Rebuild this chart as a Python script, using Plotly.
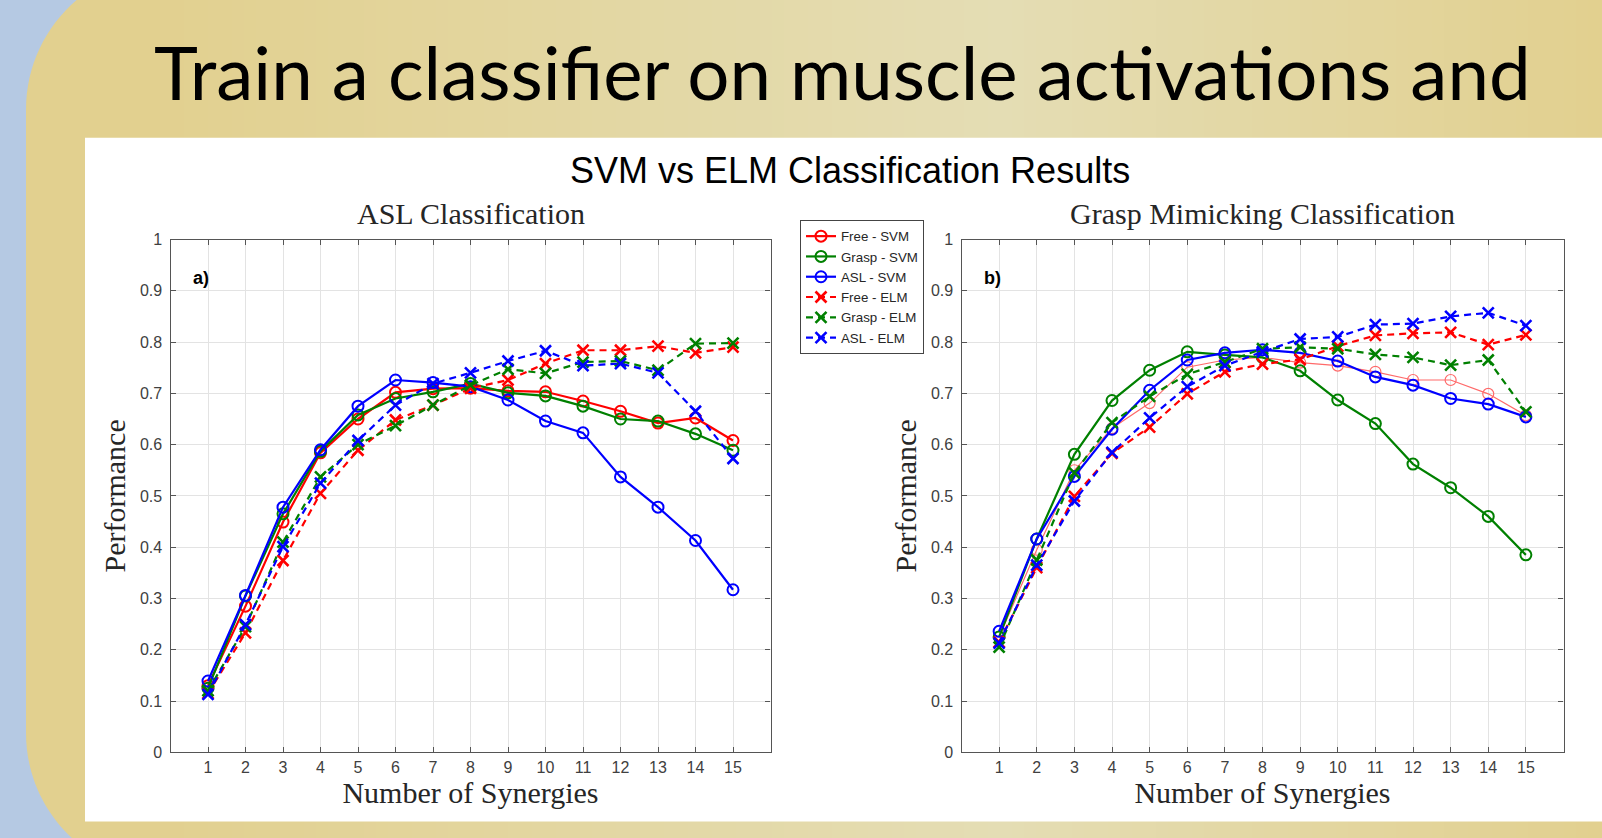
import plotly.graph_objects as go

W, H = 1602, 838

# ---------------- data ----------------
synergies = list(range(1, 16))
x_tick_labels = [str(v) for v in synergies]
y_tick_vals = [0, 0.1, 0.2, 0.3, 0.4, 0.5, 0.6, 0.7, 0.8, 0.9, 1]
y_tick_labels = ["0", "0.1", "0.2", "0.3", "0.4", "0.5", "0.6", "0.7", "0.8", "0.9", "1"]

series_names = ["Free - SVM", "Grasp - SVM", "ASL - SVM", "Free - ELM", "Grasp - ELM", "ASL - ELM"]

# a) ASL Classification
asl_free_svm = [0.130, 0.285, 0.449, 0.584, 0.650, 0.702, 0.709, 0.710, 0.705, 0.703, 0.685, 0.665, 0.642, 0.652, 0.608]
asl_grasp_svm = [0.125, 0.305, 0.465, 0.587, 0.658, 0.690, 0.703, 0.719, 0.701, 0.695, 0.675, 0.650, 0.646, 0.621, 0.589]
asl_asl_svm = [0.139, 0.306, 0.478, 0.590, 0.675, 0.726, 0.721, 0.713, 0.687, 0.646, 0.623, 0.537, 0.478, 0.413, 0.317]
asl_free_elm = [0.115, 0.233, 0.374, 0.505, 0.589, 0.648, 0.677, 0.710, 0.726, 0.758, 0.784, 0.784, 0.792, 0.779, 0.790]
asl_grasp_elm = [0.120, 0.245, 0.410, 0.537, 0.600, 0.637, 0.677, 0.716, 0.747, 0.739, 0.761, 0.763, 0.745, 0.797, 0.798]
asl_asl_elm = [0.113, 0.249, 0.401, 0.525, 0.608, 0.677, 0.719, 0.740, 0.763, 0.783, 0.754, 0.758, 0.740, 0.665, 0.573]

# b) Grasp Mimicking Classification
gm_free_svm = [0.225, 0.395, 0.550, 0.632, 0.681, 0.751, 0.765, 0.770, 0.760, 0.754, 0.742, 0.726, 0.726, 0.699, 0.657]
gm_grasp_svm = [0.225, 0.416, 0.581, 0.686, 0.745, 0.781, 0.775, 0.770, 0.744, 0.687, 0.641, 0.562, 0.516, 0.460, 0.385]
gm_asl_svm = [0.236, 0.416, 0.538, 0.630, 0.706, 0.765, 0.779, 0.785, 0.779, 0.763, 0.732, 0.716, 0.690, 0.679, 0.654]
gm_free_elm = [0.215, 0.360, 0.499, 0.583, 0.634, 0.699, 0.742, 0.757, 0.766, 0.792, 0.813, 0.817, 0.819, 0.795, 0.814]
gm_grasp_elm = [0.205, 0.375, 0.545, 0.643, 0.694, 0.737, 0.761, 0.787, 0.790, 0.787, 0.776, 0.770, 0.755, 0.765, 0.664]
gm_asl_elm = [0.213, 0.365, 0.490, 0.585, 0.652, 0.713, 0.754, 0.781, 0.806, 0.810, 0.834, 0.836, 0.850, 0.857, 0.832]

left_series = [asl_free_svm, asl_grasp_svm, asl_asl_svm, asl_free_elm, asl_grasp_elm, asl_asl_elm]
right_series = [gm_free_svm, gm_grasp_svm, gm_asl_svm, gm_free_elm, gm_grasp_elm, gm_asl_elm]

# ---------------- styles ----------------
RED, GREEN, BLUE = "#ff0000", "#008000", "#0000ff"
colors = [RED, GREEN, BLUE, RED, GREEN, BLUE]
is_elm = [False, False, False, True, True, True]


def px(x):
    return x / W


def py(y):
    return 1 - y / H


fig = go.Figure()


def add_series(values, i, xa, ya, showlegend, thin=False):
    elm = is_elm[i]
    col = colors[i]
    lw = 2.2
    if thin:
        col = "#ff6a6a"
        lw = 1.2
    fig.add_trace(go.Scatter(
        x=synergies, y=values, name=series_names[i],
        mode="lines+markers", xaxis=xa, yaxis=ya, showlegend=showlegend,
        line=dict(color=col, width=lw, dash="7px,5px" if elm else "solid"),
        marker=dict(symbol="x-thin-open" if elm else "circle-open",
                    size=11, color=col,
                    line=dict(color=col, width=2.6 if elm else (1.2 if thin else 2))),
    ))


for i, vals in enumerate(left_series):
    add_series(vals, i, "x", "y", True)
for i, vals in enumerate(right_series):
    add_series(vals, i, "x2", "y2", False, thin=(i == 0))

# ---------------- background shapes ----------------
shapes = []
GOLD_DARK = (226, 208, 143)
GOLD_LIGHT = (228, 221, 180)

# gold rounded panel
pts = [
    ("M", [(26, 733)]),
    ("C", [(26, 812), (90, 876), (169, 876)]),
    ("L", [(1700, 876)]),
    ("L", [(1700, -34)]),
    ("L", [(169, -34)]),
    ("C", [(90, -34), (26, 30.5), (26, 109.5)]),
]
path = ""
for cmd, coords in pts:
    path += cmd + " ".join(f"{px(a):.5f},{py(b):.5f}" for a, b in coords) + " "
path += "Z"
shapes.append(dict(type="path", path=path, xref="paper", yref="paper",
                   fillcolor="rgb(%d,%d,%d)" % GOLD_DARK, line=dict(width=0), layer="below"))

# horizontal gradient strips
step = 12
xs = 160
while xs < W:
    c = xs + step / 2
    if c < 1000:
        t = max(0.0, 1 - (1000 - c) / 850)
    else:
        t = max(0.0, 1 - (c - 1000) / 600)
    rgb = tuple(int(round(GOLD_DARK[j] + (GOLD_LIGHT[j] - GOLD_DARK[j]) * t)) for j in range(3))
    shapes.append(dict(type="rect", xref="paper", yref="paper",
                       x0=px(xs), x1=px(min(W, xs + step + 0.5)), y0=py(840), y1=py(-2),
                       fillcolor="rgb(%d,%d,%d)" % rgb, line=dict(width=0), layer="below"))
    xs += step

# white chart panel
shapes.append(dict(type="rect", xref="paper", yref="paper",
                   x0=px(85), x1=px(W + 2), y0=py(821.5), y1=py(137.7),
                   fillcolor="white", line=dict(width=0), layer="below"))

# ---------------- axes ----------------
AX_COL = "#555555"
TICK_FONT = dict(family="Liberation Sans, Arial, sans-serif", size=16, color="#404040")
SERIF = "Liberation Serif, Times New Roman, serif"

y_dom = [py(752.3), py(239.5)]
left_dom = [px(170.5), px(770.5)]
right_dom = [px(961.5), px(1563.5)]


def xaxis(domain, anchor):
    return dict(domain=domain, anchor=anchor, range=[0, 16], automargin=False,
                tickmode="array", tickvals=synergies, ticktext=x_tick_labels,
                showgrid=True, gridcolor="#e3e3e3", gridwidth=1,
                showline=True, linecolor=AX_COL, linewidth=1.3, mirror="allticks",
                ticks="inside", ticklen=5, tickcolor=AX_COL, tickwidth=1,
                tickfont=TICK_FONT, zeroline=False, fixedrange=True,
                title=dict(text="Number of Synergies", font=dict(family=SERIF, size=30, color="#262626"),
                           standoff=3))


def yaxis(anchor):
    return dict(domain=y_dom, anchor=anchor, range=[0, 1], automargin=False,
                tickmode="array", tickvals=y_tick_vals, ticktext=y_tick_labels,
                showgrid=True, gridcolor="#e3e3e3", gridwidth=1,
                showline=True, linecolor=AX_COL, linewidth=1.3, mirror="allticks",
                ticks="inside", ticklen=5, tickcolor=AX_COL, tickwidth=1,
                tickfont=TICK_FONT, zeroline=False, fixedrange=True, ticklabelstandoff=4,
                title=dict(text="Performance", font=dict(family=SERIF, size=30, color="#262626"),
                           standoff=5))


# ---------------- annotations ----------------
annotations = [
    dict(text="Train a classifier on muscle activations and", x=px(842.5), y=py(71),
         xref="paper", yref="paper", xanchor="center", yanchor="middle", showarrow=False,
         font=dict(family="Lato, Open Sans, sans-serif", size=74.5, color="black")),
    dict(text="SVM vs ELM Classification Results", x=px(850), y=py(170),
         xref="paper", yref="paper", xanchor="center", yanchor="middle", showarrow=False,
         font=dict(family="Liberation Sans, Arial, sans-serif", size=36, color="black")),
    dict(text="ASL Classification", x=px(470.5), y=py(214),
         xref="paper", yref="paper", xanchor="center", yanchor="middle", showarrow=False,
         font=dict(family=SERIF, size=30, color="#262626")),
    dict(text="Grasp Mimicking Classification", x=px(1262.5), y=py(214),
         xref="paper", yref="paper", xanchor="center", yanchor="middle", showarrow=False,
         font=dict(family=SERIF, size=30, color="#262626")),
    dict(text="<b>a)</b>", x=0.55, y=0.925, xref="x", yref="y",
         xanchor="left", yanchor="middle", showarrow=False,
         font=dict(family="Liberation Sans, Arial, sans-serif", size=18, color="black")),
    dict(text="<b>b)</b>", x=0.55, y=0.925, xref="x2", yref="y2",
         xanchor="left", yanchor="middle", showarrow=False,
         font=dict(family="Liberation Sans, Arial, sans-serif", size=18, color="black")),
]

fig.update_layout(
    width=W, height=H, autosize=False,
    margin=dict(l=0, r=0, t=0, b=0, pad=0, autoexpand=False),
    paper_bgcolor="#b5c9e3", plot_bgcolor="white",
    xaxis=xaxis(left_dom, "y"), yaxis=yaxis("x"),
    xaxis2=xaxis(right_dom, "y2"), yaxis2=yaxis("x2"),
    shapes=shapes, annotations=annotations,
    showlegend=True,
    legend=dict(x=px(800), y=py(220), xanchor="left", yanchor="top",
                bgcolor="white", bordercolor="#444444", borderwidth=1,
                font=dict(family="Liberation Sans, Arial, sans-serif", size=13.3, color="#262626"),
                itemwidth=30, tracegroupgap=0),
    hovermode=False,
)

fig.write_html("out.html", config={"displayModeBar": False},
               post_script="document.body.style.margin='0';document.body.style.overflow='hidden';")
